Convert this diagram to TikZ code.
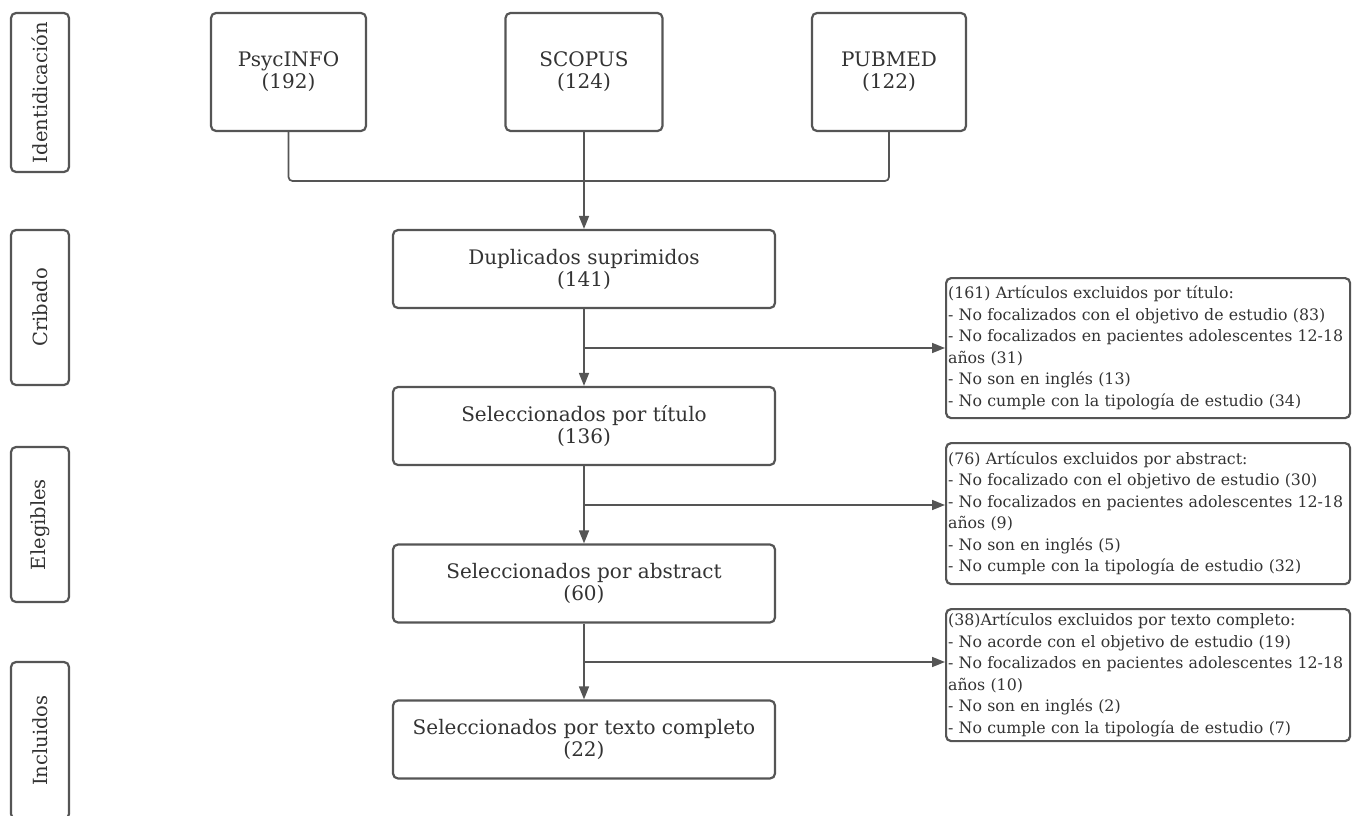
\documentclass[tikz,border=0pt]{standalone}
\usepackage{fontspec}
\setmainfont{DejaVu Serif}
\usetikzlibrary{arrows.meta}
\definecolor{ln}{HTML}{555555}
\definecolor{tx}{HTML}{333333}
\tikzset{
  box/.style={draw=ln, line width=2.2pt, rounded corners=5pt, fill=white, text=tx, align=center, font=\fontsize{20}{22}\selectfont, inner sep=0pt},
  side/.style={box, rotate=90, minimum height=58pt, font=\fontsize{19.5}{21}\selectfont},
  excl/.style={draw=ln, line width=2.2pt, rounded corners=5pt, fill=white, text=tx, align=left, font=\fontsize{15.8}{21.5}\selectfont, inner xsep=2pt, inner ysep=2pt, anchor=north west},
  conn/.style={draw=ln, line width=1.7pt},
  arr/.style={conn, -{Triangle[length=13pt,width=10pt]}}
}
\begin{document}
\begin{tikzpicture}[x=1pt,y=-1pt]
\useasboundingbox (0,0) rectangle (1355,816);
\clip (0,0) rectangle (1355,816);
% side labels
\node[side, minimum width=159pt] (s1) at (40,92.5) {Identidicación};
\node[side, minimum width=155pt] (s2) at (40,307.5) {Cribado};
\node[side, minimum width=155pt] (s3) at (40,524.5) {Elegibles};
\node[side, minimum width=157pt] (s4) at (40,740.5) {Incluidos};
% sources
\node[box, minimum width=155pt, minimum height=118pt] (psy) at (288.5,72) {PsycINFO\\(192)};
\node[box, minimum width=157pt, minimum height=118pt] (sco) at (584,72) {SCOPUS\\(124)};
\node[box, minimum width=154pt, minimum height=118pt] (pub) at (889,72) {PUBMED\\(122)};
% main
\node[box, minimum width=382pt, minimum height=78pt] (dup) at (584,269) {Duplicados suprimidos\\(141)};
\node[box, minimum width=382pt, minimum height=78pt] (tit) at (584,426) {Seleccionados por título\\(136)};
\node[box, minimum width=382pt, minimum height=78pt] (abs) at (584,583.5) {Seleccionados por abstract\\(60)};
\node[box, minimum width=382pt, minimum height=78pt] (txt) at (584,739.5) {Seleccionados por texto completo\\(22)};
% exclusions
\node[excl, text width=400pt, minimum height=140pt] (e1) at (945,277) {(161) Artículos excluidos por título:\\- No focalizados con el objetivo de estudio (83)\\- No focalizados en pacientes adolescentes 12-18\\años (31)\\- No son en inglés (13)\\- No cumple con la tipología de estudio (34)};
\node[excl, text width=400pt, minimum height=141pt] (e2) at (945,442) {(76) Artículos excluidos por abstract:\\- No focalizado con el objetivo de estudio (30)\\- No focalizados en pacientes adolescentes 12-18\\años (9)\\- No son en inglés (5)\\- No cumple con la tipología de estudio (32)};
\node[excl, text width=400pt, minimum height=132pt] (e3) at (945,608) {(38)Artículos excluidos por texto completo:\\- No acorde con el objetivo de estudio (19)\\- No focalizados en pacientes adolescentes 12-18\\años (10)\\- No son en inglés (2)\\- No cumple con la tipología de estudio (7)};
% connectors
\coordinate (join) at (584,181);
\draw[conn, rounded corners=4pt] (psy.south) |- (join) -| (pub.south);
\draw[arr] (sco.south) -- (dup.north);
\coordinate (b1) at (584,348);
\coordinate (b2) at (584,505);
\coordinate (b3) at (584,662);
\draw[arr] (dup.south) -- (tit.north);
\draw[arr] (tit.south) -- (abs.north);
\draw[arr] (abs.south) -- (txt.north);
\draw[arr] (b1) -- (e1.west |- b1);
\draw[arr] (b2) -- (e2.west |- b2);
\draw[arr] (b3) -- (e3.west |- b3);
\end{tikzpicture}
\end{document}
